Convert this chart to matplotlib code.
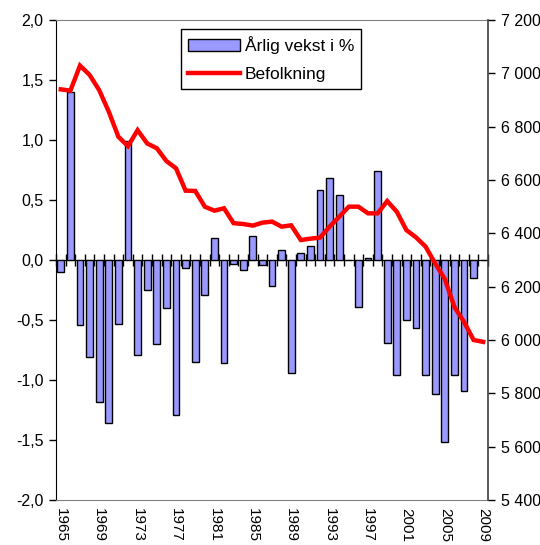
import numpy as np
import matplotlib
matplotlib.use('Agg')
import matplotlib.pyplot as plt
from matplotlib.ticker import FuncFormatter, FixedLocator, NullFormatter

plt.rcParams['font.family'] = ['Liberation Sans', 'DejaVu Sans']

years = list(range(1965, 2010))

# annual growth in percent (left axis)
vekst = [-0.10, 1.40, -0.54, -0.81, -1.18, -1.36, -0.53, 0.99, -0.79, -0.25,
         -0.70, -0.40, -1.29, -0.07, -0.85, -0.29, 0.18, -0.86, -0.03, -0.08,
         0.20, -0.04, -0.22, 0.08, -0.94, 0.06, 0.12, 0.58, 0.68, 0.54,
         0.00, -0.39, 0.02, 0.74, -0.69, -0.96, -0.50, -0.57, -0.96, -1.12,
         -1.52, -0.96, -1.09, -0.15, 0.00]

# population (right axis)
befolkning = [6940, 6935, 7029, 6994, 6937, 6856, 6762, 6727, 6787, 6737,
              6719, 6671, 6644, 6560, 6559, 6500, 6485, 6494, 6438, 6435,
              6429, 6440, 6444, 6425, 6430, 6375, 6380, 6384, 6425, 6462,
              6500, 6500, 6475, 6475, 6521, 6481, 6412, 6385, 6350, 6287,
              6229, 6124, 6068, 6000, 5993]

label_years = years[::4]

fig = plt.figure(figsize=(5.4, 5.45), dpi=100)
ax = fig.add_axes([56 / 540, 45 / 545, 432 / 540, 480 / 545])
x = np.arange(len(years))

bars = ax.bar(x, vekst, width=0.72, color='#9999ff', edgecolor='black',
              linewidth=1.0, zorder=2, label='Årlig vekst i %')
ax.set_xlim(-0.5, len(years) - 0.5)
ax.set_ylim(-2.0, 2.0)
ax.set_yticks(np.arange(-2.0, 2.01, 0.5))
ax.yaxis.set_major_formatter(FuncFormatter(lambda v, p: f'{v:.1f}'.replace('.', ',')))
ax.tick_params(axis='y', direction='out', length=5, width=1, labelsize=11.5, pad=4)

# year labels under the plot
ax.set_xticks([years.index(y) for y in label_years])
ax.set_xticklabels([str(y) for y in label_years], rotation=-90, fontsize=11)
ax.tick_params(axis='x', length=0, pad=6)

for side in ['top', 'bottom']:
    ax.spines[side].set_color('#808080')
ax.spines['left'].set_color('black')
ax.spines['right'].set_visible(False)

# category axis at zero with ticks between categories
zero = ax.secondary_xaxis(0.5)
zero.xaxis.set_major_locator(FixedLocator(np.arange(-0.5, len(years), 1.0)))
zero.xaxis.set_major_formatter(NullFormatter())
zero.tick_params(axis='x', direction='inout', length=8, width=1,
                 labelbottom=False, labeltop=False)
zero.spines['bottom'].set_color('black')
zero.spines['bottom'].set_linewidth(1.0)

ax2 = ax.twinx()
line, = ax2.plot(x, befolkning, color='#ff0000', linewidth=3.2, zorder=3,
                 solid_joinstyle='miter', label='Befolkning')
ax2.set_ylim(5400, 7200)
ax2.set_yticks(np.arange(5400, 7201, 200))
ax2.yaxis.set_major_formatter(FuncFormatter(lambda v, p: f'{int(v):,}'.replace(',', ' ')))
ax2.tick_params(axis='y', direction='out', length=5, width=1, labelsize=11.5, pad=4)
for side in ['top', 'bottom', 'left']:
    ax2.spines[side].set_visible(False)
ax2.spines['right'].set_color('#404040')
ax2.spines['right'].set_linewidth(1.2)

leg = ax2.legend([bars, line], ['Årlig vekst i %', 'Befolkning'],
                 loc='upper left', bbox_to_anchor=(0.289, 0.981),
                 borderaxespad=0, fontsize=12.5, frameon=True, fancybox=False,
                 framealpha=1, edgecolor='black', handlelength=3.0,
                 handleheight=0.7, borderpad=0.4, labelspacing=0.75,
                 handletextpad=0.3)
leg.get_frame().set_linewidth(1.0)

fig.savefig('out.png', dpi=100)
